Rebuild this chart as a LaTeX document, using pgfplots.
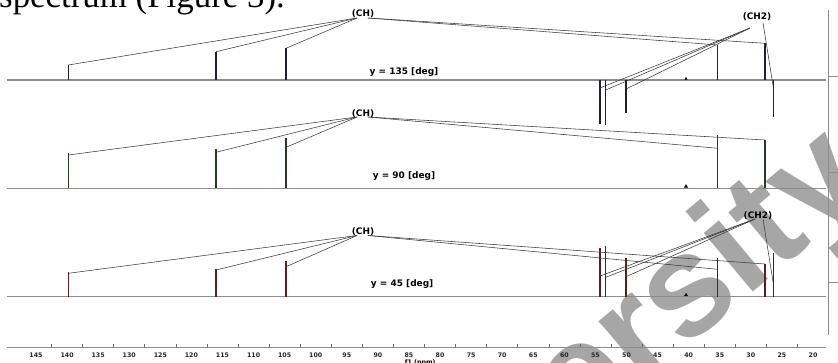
\documentclass[border=0pt]{standalone}
\usepackage{pgfplots}
\pgfplotsset{compat=1.18}
\usetikzlibrary{calc}
\usepackage{fontspec}
\setmainfont{DejaVu Sans}
\newfontfamily\seriffont{Liberation Serif}
\newfontfamily\wmfont{Liberation Sans}
\definecolor{navyS}{HTML}{1E1E40}
\definecolor{greenS}{HTML}{1E3F1E}
\definecolor{maroonS}{HTML}{5A1E1E}
\definecolor{basegray}{HTML}{8C8C8C}
\definecolor{lblline}{HTML}{3A3A3A}
\newcommand{\pk}[4]{\addplot[#1, line width=1.1bp] coordinates {(#2,#3) (#2,#4)};}
\newcommand{\lk}[4]{\addplot[lblline, line width=0.55bp] coordinates {(#1,#2) (#3,#4)};}
\newcommand{\lblfont}{\bfseries\fontsize{9}{10}\selectfont}
\newcommand{\tkfont}{\bfseries\fontsize{6.3}{7}\selectfont}
\begin{document}
\begin{tikzpicture}
\path[use as bounding box] (-7bp,-16bp) rectangle (831bp,347bp);
% watermark
\foreach \ch/\s in {e/314.2, r/394.8, s/451.2, i/531.9, t/572.2, y/620.5} {
  \node[rotate=40, anchor=base west, inner sep=0pt, font=\wmfont\bfseries\fontsize{145}{150}\selectfont, text=black!35]
    at ($(331bp,-293.9bp)+(40:\s bp)$) {\ch};
}
\node[anchor=base west, inner sep=0pt, font=\seriffont\fontsize{35}{38}\selectfont] at (-8bp,339bp) {spectrum (Figure 3).};
\begin{axis}[
  scale only axis, width=819bp, height=337bp,
  xmin=17.91, xmax=149.67, x dir=reverse,
  ymin=0, ymax=337,
  axis x line*=bottom, hide y axis,
  axis line style={basegray, line width=0.8bp},
  xtick={20,25,...,145},
  minor x tick num=1,
  major tick length=0bp, minor tick length=3bp,
  xtick align=inside,
  tick style={black!60, line width=0.6bp},
  xticklabel style={font=\tkfont, text=black!85, yshift=-2.5bp},
  /pgf/number format/assume math mode=true,
  clip=false,
]
% baselines
\addplot[basegray, line width=1.1bp] coordinates {(149.67,267) (17.91,267)};
\addplot[basegray, line width=1.1bp] coordinates {(149.67,158.7) (17.91,158.7)};
\addplot[basegray, line width=1.1bp] coordinates {(149.67,50.3) (17.91,50.3)};
% label lines, spectrum 135
\lk{93.36}{329}{139.80}{282}
\lk{93.36}{329}{116.04}{295.3}
\lk{93.36}{329}{104.78}{298.7}
\lk{91.6}{329}{35.33}{302}
\lk{91.6}{329}{27.72}{303.7}
\lk{30.13}{319}{54.27}{259}
\lk{30.13}{319}{53.35}{257}
\lk{30.13}{319}{50.08}{258}
\lk{28.04}{324}{26.39}{260}
% label lines, spectrum 90
\lk{93.36}{230}{139.80}{192}
\lk{93.36}{230}{116.04}{194.7}
\lk{93.36}{230}{104.78}{199.7}
\lk{91.6}{230}{35.33}{198.7}
\lk{91.6}{230}{27.72}{207}
% label lines, spectrum 45
\lk{93.36}{111.5}{139.80}{73.7}
\lk{93.36}{111.5}{116.04}{77}
\lk{93.36}{111.5}{104.78}{80.3}
\lk{91.6}{111.5}{35.33}{77.7}
\lk{91.6}{111.5}{27.72}{83}
\lk{29.33}{128}{54.27}{71}
\lk{29.33}{128}{53.35}{69.7}
\lk{29.33}{128}{50.08}{70.3}
\lk{28.04}{128}{26.3}{60}
% peaks, 135
\pk{navyS}{139.80}{267}{282}
\pk{navyS}{116.04}{267}{295.3}
\pk{navyS}{104.78}{267}{298.7}
\pk{navyS}{54.27}{267}{223}
\pk{navyS}{53.35}{267}{222}
\pk{navyS}{50.08}{267}{234}
\pk{navyS}{35.33}{267}{302}
\pk{navyS}{27.72}{267}{303.7}
\pk{navyS}{26.39}{267}{230}
% peaks, 90
\pk{greenS}{139.80}{158.7}{193.7}
\pk{greenS}{116.04}{158.7}{197.7}
\pk{greenS}{104.78}{158.7}{208.7}
\pk{greenS}{35.33}{158.7}{212}
\pk{greenS}{27.72}{158.7}{207}
% peaks, 45
\pk{maroonS}{139.80}{50.3}{75.3}
\pk{maroonS}{116.04}{50.3}{77.7}
\pk{maroonS}{104.78}{50.3}{86.3}
\pk{maroonS}{54.27}{50.3}{98.7}
\pk{maroonS}{53.35}{50.3}{101}
\pk{maroonS}{50.08}{50.3}{88.7}
\pk{maroonS}{35.33}{50.3}{89}
\pk{maroonS}{27.72}{50.3}{83}
\pk{maroonS}{26.39}{50.3}{93.7}
% solvent
\addplot[only marks, mark=triangle*, mark size=1.3bp, black] coordinates {(40.43,268.3)};
\addplot[only marks, mark=triangle*, mark size=1.9bp, black] coordinates {(40.43,160.5)};
\addplot[only marks, mark=triangle*, mark size=1.7bp, black] coordinates {(40.43,52)};
% labels
\node[font=\lblfont] at (axis cs:92.39,333) {(CH)};
\node[font=\lblfont] at (axis cs:29.0,330) {(CH2)};
\node[font=\lblfont] at (axis cs:92.39,233.5) {(CH)};
\node[font=\lblfont] at (axis cs:92.39,115.5) {(CH)};
\node[font=\lblfont] at (axis cs:28.85,131.5) {(CH2)};
\node[font=\lblfont] at (axis cs:85.8,275) {y = 135 [deg]};
\node[font=\lblfont] at (axis cs:85.8,170.5) {y = 90 [deg]};
\node[font=\lblfont] at (axis cs:86.1,63) {y = 45 [deg]};
\node[anchor=north, inner sep=0pt, font=\tkfont] at (axis cs:83.2,-12.7) {f1 (ppm)};
% right axis
\draw[basegray, line width=0.8bp] (axis cs:17.59,12) -- (axis cs:17.59,337);
\draw[basegray, line width=0.6bp] (axis cs:17.59,271) -- ++(3bp,0) node[right, inner sep=0.5bp, font=\tkfont, text=black]{3};
\draw[basegray, line width=0.6bp] (axis cs:17.59,175) -- ++(3bp,0) node[right, inner sep=0.5bp, font=\tkfont, text=black]{2};
\draw[basegray, line width=0.6bp] (axis cs:17.59,65) -- ++(3bp,0) node[right, inner sep=0.5bp, font=\tkfont, text=black]{1};
\end{axis}
\end{tikzpicture}
\end{document}
